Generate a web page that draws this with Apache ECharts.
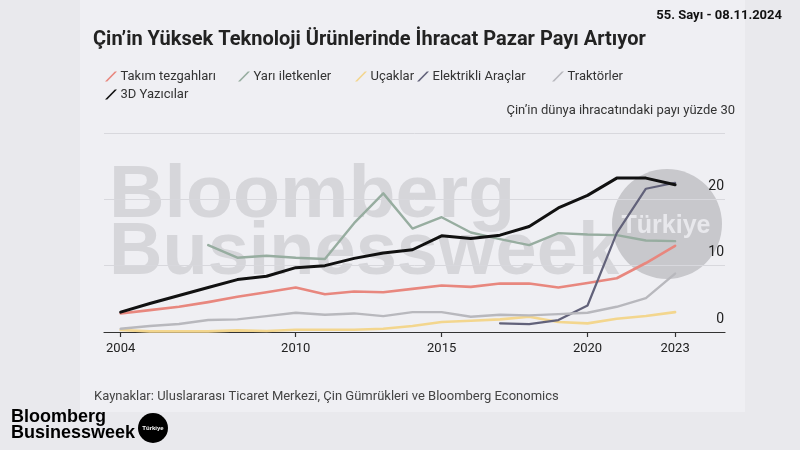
<!DOCTYPE html>
<html><head><meta charset="utf-8">
<script src="https://cdn.jsdelivr.net/npm/echarts@6/dist/echarts.min.js"></script>
<style>html,body{margin:0;padding:0;background:#ebebef}#c{width:800px;height:450px}</style>
</head><body><div id="c"></div>
<script>
// ---- data ----
const years = [2004,2005,2006,2007,2008,2009,2010,2011,2012,2013,2014,2015,2016,2017,2018,2019,2020,2021,2022,2023];
const xTickLabels = [2004, 2010, 2015, 2020, 2023];
const yTickValues = [0, 10, 20, 30];
const seriesNames = ['Takım tezgahları','Yarı iletkenler','Uçaklar','Elektrikli Araçlar','Traktörler','3D Yazıcılar'];
const takimTezgahlari = [2.8,3.3,3.8,4.5,5.3,6.0,6.7,5.7,6.1,6.0,6.5,7.0,6.8,7.3,7.3,6.7,7.4,8.1,10.4,13.0];
const yariIletkenler = [null,null,null,13.1,11.2,11.5,11.2,11.0,16.4,20.9,15.6,17.3,15.0,14.0,13.1,14.9,14.7,14.6,13.8,13.7];
const ucaklar = [0.3,0.1,0.1,0.1,0.25,0.15,0.35,0.35,0.35,0.5,0.9,1.5,1.7,1.9,2.3,1.5,1.3,2.0,2.4,3.0];
const elektrikliAraclar = [null,null,null,null,null,null,null,null,null,null,null,null,null,1.3,1.2,1.8,4.0,14.9,21.6,22.5];
const traktorler = [0.5,0.9,1.2,1.8,1.9,2.4,2.9,2.6,2.8,2.4,3.0,3.0,2.3,2.6,2.5,2.7,2.9,3.8,5.1,8.8];
const yazicilar3D = [3.0,4.3,5.5,6.7,7.9,8.4,9.7,10.0,11.1,11.9,12.4,14.5,14.1,14.6,15.9,18.7,20.6,23.2,23.2,22.2];
const titleText = 'Çin’in Yüksek Teknoloji Ürünlerinde İhracat Pazar Payı Artıyor';
const issueText = '55. Sayı - 08.11.2024';
const axisNote = 'Çin’in dünya ihracatındaki payı yüzde 30';
const sourceText = 'Kaynaklar: Uluslararası Ticaret Merkezi, Çin Gümrükleri ve Bloomberg Economics';

const seriesValues = [takimTezgahlari, yariIletkenler, ucaklar, elektrikliAraclar, traktorler, yazicilar3D];
const seriesColors = ['#e8877e','#97ada0','#f3d68e','#62627a','#b8b8bd','#111111'];
const seriesWidths = [2.6,2.4,2.6,2.2,2.4,3];
const legendPos = [[105,70],[238,70],[355,70],[417,70],[552,70],[105,88]];

const FONT = 'Roboto, "Liberation Sans", sans-serif';
const slash = 'path://M0,10 L2.2,10 L12,0 L9.8,0 Z';

function pairs(arr){ return years.map((y,i)=>[y, arr[i]]).filter(p=>p[1]!=null); }

const chart = echarts.init(document.getElementById('c'), null, {renderer:'canvas'});
const option = {
  backgroundColor: '#e9e9ed',
  animation: false,
  textStyle: {fontFamily: FONT},
  graphic: {elements: [
    {type:'rect', z:-20, shape:{x:80,y:0,width:665,height:412}, style:{fill:'#efeff3'}},
    {type:'text', z:-10, x:109, y:197, scaleX:1.04, style:{text:'Bloomberg', font:'bold 74px "Liberation Sans"', fill:'#d6d6da', verticalAlign:'middle'}},
    {type:'text', z:-10, x:109, y:254, scaleX:1.0, style:{text:'Businessweek', font:'bold 74px "Liberation Sans"', fill:'#d6d6da', verticalAlign:'middle'}},
    {type:'circle', z:-10, shape:{cx:667,cy:224,r:55}, style:{fill:'#c8c8cc'}},
    {type:'text', z:-9, x:666, y:226, style:{text:'Türkiye', font:'bold 25px "Liberation Sans"', fill:'#e8e8ec', align:'center', verticalAlign:'middle'}},
    {type:'text', x:11, y:417, style:{text:'Bloomberg', font:'bold 18px "Liberation Sans"', fill:'#000', verticalAlign:'middle'}},
    {type:'text', x:11, y:433, style:{text:'Businessweek', font:'bold 18px "Liberation Sans"', fill:'#000', verticalAlign:'middle'}},
    {type:'circle', shape:{cx:153,cy:428,r:15}, style:{fill:'#000'}},
    {type:'text', x:153, y:428, style:{text:'Türkiye', font:'bold 6px "Liberation Sans"', fill:'#fff', align:'center', verticalAlign:'middle'}}
  ]},
  title: [
    {text: titleText, left: 93, top: 30, padding:0, textStyle:{fontSize:20, fontWeight:'bold', color:'#222', fontFamily:FONT}},
    {text: issueText, right: 18, top: 9, padding:0, textStyle:{fontSize:13, fontWeight:'bold', color:'#111', fontFamily:FONT}},
    {text: axisNote, right: 65, top: 104, padding:0, textStyle:{fontSize:13, fontWeight:'normal', color:'#333', fontFamily:FONT}},
    {text: sourceText, left: 94, top: 390, padding:0, textStyle:{fontSize:13, fontWeight:'normal', color:'#444', fontFamily:FONT}}
  ],
  legend: seriesNames.map((n,i)=>({
    data:[n], left: legendPos[i][0], top: legendPos[i][1], padding:0, itemGap:0,
    icon: slash, itemWidth:15, itemHeight:10, selectedMode:false,
    itemStyle:{borderWidth:0},
    textStyle:{fontSize:13, color:'#333', fontFamily:FONT, padding:[0,0,0,-3]}
  })),
  grid: {left:104, right:75, top:133, bottom:118, containLabel:false},
  xAxis: {
    type:'value', min:2003.43, max:2024.71,
    axisLine:{show:true, lineStyle:{color:'#333', width:1.2}},
    axisTick:{show:true, customValues:xTickLabels, length:5, lineStyle:{color:'#333', width:1.2}},
    axisLabel:{customValues:xTickLabels, formatter:v=>String(v), margin:10, fontSize:13, color:'#222', fontFamily:FONT},
    splitLine:{show:false}
  },
  yAxis: {
    type:'value', position:'right', min:0, max:30, interval:10,
    axisLine:{show:false}, axisTick:{show:false},
    splitLine:{show:true, lineStyle:{color:'#d8d8dd', width:1}},
    axisLabel:{inside:true, margin:1, formatter:v=> v===30 ? '' : String(v), verticalAlign:'bottom', padding:[0,0,6,0], fontSize:14, color:'#222', fontFamily:FONT}
  },
  series: seriesNames.map((n,i)=>({
    name:n, type:'line', data:pairs(seriesValues[i]), showSymbol:false, symbol:'none',
    smooth:false, connectNulls:false,
    itemStyle:{color:seriesColors[i]},
    lineStyle:{color:seriesColors[i], width:seriesWidths[i], cap:'round', join:'round'},
    emphasis:{disabled:true}, silent:true, z: i===5 ? 5 : 3
  }))
};
chart.setOption(option);
</script>
</body></html>
